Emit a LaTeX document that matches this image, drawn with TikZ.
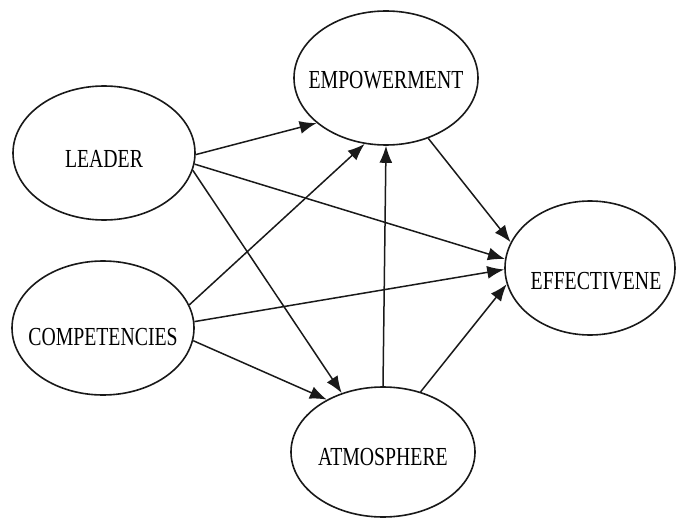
\documentclass[tikz,border=0pt]{standalone}
\usepackage{fontspec}
\setmainfont{Liberation Serif}
\usetikzlibrary{shapes.geometric,arrows.meta}
\newcommand{\lbl}[2][-15pt]{\makebox[0pt]{\smash{\raisebox{#1}{\scalebox{0.76}[1]{#2}}}}}
\begin{document}
\begin{tikzpicture}[x=1pt,y=-1pt,>={Latex[length=17pt,width=13pt]}]
        		\tikzstyle{construct}=[ellipse,draw=black!90,line width=1.6pt,inner sep=0pt,minimum width=182pt,minimum height=134pt,font=\fontsize{26}{29}\selectfont]
        		\tikzstyle{edge}=[draw=black!90,line width=1.5pt,->]

        		\useasboundingbox (0,0) rectangle (678,519);

       			\begin{scope}

			         \node [construct] (lead) at (104,153) {\lbl{LEADER}};
			         \node [construct] (comp) at (103,328) {\lbl[-17pt]{COMPETENCIES}};
			         \node [construct,minimum width=184pt] (emp) at (386,78) {\lbl[-10pt]{EMPOWERMENT}};
			         \node [construct,minimum width=184pt,minimum height=130pt] (atm) at (383,452) {\lbl[-13pt]{ATMOSPHERE}};
			         \node [construct,minimum width=170pt] (eff) at (590,268) {\hspace{12pt}\lbl[-21pt]{EFFECTIVENE}};

			 		\draw[edge] (lead.-1) -- (emp.213);
			 		\draw[edge] (lead.-7) -- (eff.174);
			 		\draw[edge] (lead.-11) -- (atm.125);

			 		\draw[edge] (comp.15) -- (emp.252);
			 		\draw[edge] (comp.4) -- (eff.181);
			 		\draw[edge] (comp.-8) -- (atm.137);

			 		\draw[edge] (atm.north) -- (emp.south);
			 		\draw[edge] (atm.58) -- (eff.191);
			 		\draw[edge] (emp.-55) -- (eff.162);

		        \end{scope}
     		 \end{tikzpicture}
\end{document}
